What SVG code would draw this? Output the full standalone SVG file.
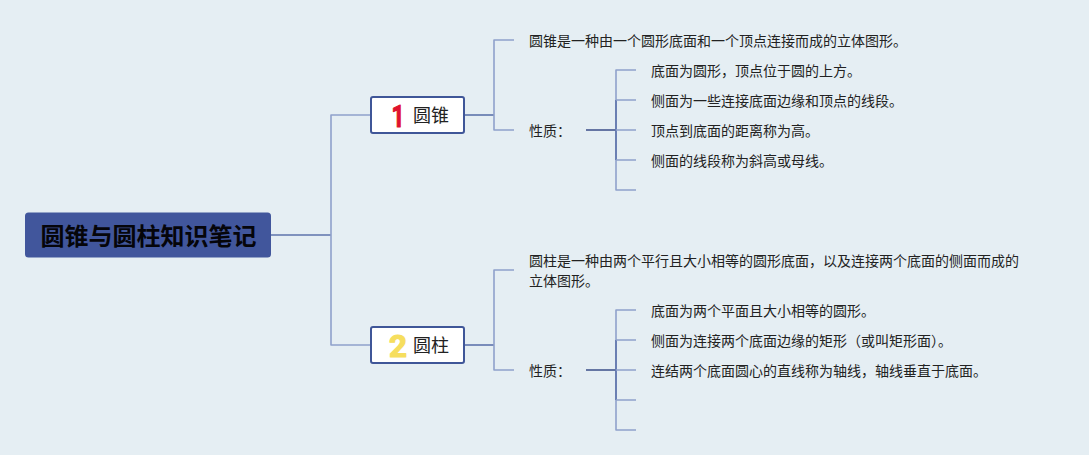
<svg xmlns="http://www.w3.org/2000/svg" width="1089" height="455" viewBox="0 0 1089 455">
<style>
text{font-family:"Noto Sans CJK SC","Liberation Sans",sans-serif;fill:#222}
.t{font-size:14px}
.c{fill:none;stroke-width:1.6;stroke-linejoin:round}
.l{stroke:#8fa1cb}
.d{stroke:#5d73ab}
.dd{stroke:#45578f}
.b{fill:#fff;stroke:#3f5698;stroke-width:2}
.n{font-size:18px}
.m{font-family:Roboto,"Liberation Sans",sans-serif;font-size:32px;font-weight:700;stroke-width:1.2;stroke-linejoin:round}
</style>
<rect width="1089" height="455" fill="#e5eef3"/>
<g id="connectors">
<path class="c d" d="M271 235H331"/>
<path class="c l" d="M371 115H331V345H371"/>
<path class="c d" d="M464 115H494"/>
<path class="c l" d="M514 40H494V130H514"/>
<path class="c d" d="M464 345H494"/>
<path class="c l" d="M514 270H494V370H514"/>
<path class="c dd" d="M586 130H616"/>
<path class="c l" d="M636 70H616V190H636"/>
<path class="c d" d="M616 100V160"/>
<path class="c l" d="M616 100H636M616 130H636M616 160H636"/>
<path class="c dd" d="M586 370H616"/>
<path class="c l" d="M636 310H616V430H636"/>
<path class="c d" d="M616 340V400"/>
<path class="c l" d="M616 340H636M616 370H636M616 400H636"/>
</g>
<g id="root">
<rect x="25" y="212.500" width="246" height="45" rx="3.500" fill="#41569c"/>
<text x="148.500" y="245" text-anchor="middle" font-size="24" font-weight="700" style="fill:#05050a">圆锥与圆柱知识笔记</text>
</g>
<g id="node-cone">
<rect class="b" x="371" y="97" width="93" height="36" rx="2"/>
<text class="m" x="391.500" y="126.500" textLength="13" lengthAdjust="spacingAndGlyphs" style="fill:#e0122e;stroke:#e0122e">1</text>
<text class="n" x="413" y="122">圆锥</text>
</g>
<g id="node-cylinder">
<rect class="b" x="371" y="327" width="93" height="36" rx="2"/>
<text class="m" x="389" y="356.500" textLength="18" lengthAdjust="spacingAndGlyphs" style="fill:#f6de5e;stroke:#f6de5e">2</text>
<text class="n" x="413" y="352">圆柱</text>
</g>
<g id="cone-def"><text class="t" x="529" y="46">圆锥是一种由一个圆形底面和一个顶点连接而成的立体图形。</text></g>
<g id="cone-props"><text class="t" x="529" y="136">性质：</text></g>
<g id="cone-p1"><text class="t" x="651" y="76">底面为圆形，顶点位于圆的上方。</text></g>
<g id="cone-p2"><text class="t" x="651" y="106">侧面为一些连接底面边缘和顶点的线段。</text></g>
<g id="cone-p3"><text class="t" x="651" y="136">顶点到底面的距离称为高。</text></g>
<g id="cone-p4"><text class="t" x="651" y="166">侧面的线段称为斜高或母线。</text></g>
<g id="cyl-def"><text class="t" x="529" y="266">圆柱是一种由两个平行且大小相等的圆形底面，以及连接两个底面的侧面而成的</text><text class="t" x="529" y="286">立体图形。</text></g>
<g id="cyl-props"><text class="t" x="529" y="376">性质：</text></g>
<g id="cyl-p1"><text class="t" x="651" y="316">底面为两个平面且大小相等的圆形。</text></g>
<g id="cyl-p2"><text class="t" x="651" y="346">侧面为连接两个底面边缘的矩形（或叫矩形面）。</text></g>
<g id="cyl-p3"><text class="t" x="651" y="376">连结两个底面圆心的直线称为轴线，轴线垂直于底面。</text></g>
</svg>
